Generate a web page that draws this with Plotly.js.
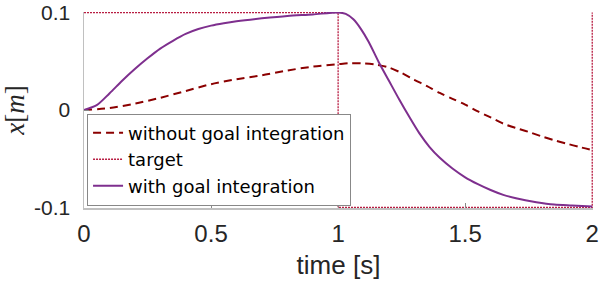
<!DOCTYPE html>
<html><head><meta charset="utf-8">
<script src="https://cdn.plot.ly/plotly-3.0.1.min.js"></script>
<style>body{margin:0;padding:0;background:#fff}#c{width:600px;height:282px}</style>
</head><body><div id="c"></div>
<script>
const tWith = [0, 0.05, 0.1, 0.15, 0.2, 0.25, 0.3, 0.35, 0.4, 0.45, 0.5, 0.55, 0.6, 0.7, 0.8, 0.9, 1.0, 1.03, 1.06, 1.09, 1.12, 1.16, 1.2, 1.24, 1.28, 1.32, 1.36, 1.4, 1.45, 1.5, 1.55, 1.6, 1.65, 1.7, 1.78, 1.85, 1.92, 2.0];
const xWith = [0, 0.005, 0.017, 0.030, 0.042, 0.053, 0.063, 0.071, 0.078, 0.083, 0.0865, 0.089, 0.091, 0.094, 0.0965, 0.098, 0.1, 0.0985, 0.093, 0.083, 0.070, 0.049, 0.030, 0.011, -0.007, -0.024, -0.038, -0.049, -0.060, -0.069, -0.076, -0.082, -0.087, -0.0905, -0.0945, -0.097, -0.098, -0.099];
const tWithout = [0, 0.1, 0.2, 0.3, 0.4, 0.5, 0.6, 0.7, 0.8, 0.9, 1.0, 1.05, 1.1, 1.15, 1.2, 1.25, 1.3, 1.35, 1.4, 1.45, 1.5, 1.55, 1.6, 1.65, 1.7, 1.75, 1.8, 1.85, 1.9, 1.95, 2.0];
const xWithout = [0, 0.002, 0.0065, 0.0125, 0.0195, 0.0265, 0.0315, 0.0355, 0.0405, 0.0445, 0.047, 0.048, 0.0478, 0.0465, 0.0435, 0.038, 0.031, 0.0245, 0.0175, 0.0115, 0.0055, -0.0015, -0.0075, -0.014, -0.0185, -0.0225, -0.027, -0.031, -0.0345, -0.038, -0.041];
const tTarget = [0, 1, 1, 2, 2];
const xTarget = [0.1, 0.1, -0.1, -0.1, 0.1];
const xTicks = [0, 0.5, 1, 1.5, 2];
const xTickText = ['0', '0.5', '1', '1.5', '2'];
const yTicks = [-0.1, 0, 0.1];
const yTickText = ['-0.1', '0', '0.1'];
const names = ['without goal integration', 'target', 'with goal integration'];

const font = 'Liberation Sans, Arial, sans-serif';
const traces = [
  {x: tWithout, y: xWithout, name: names[0], mode: 'lines', line: {color: '#8b0000', width: 2, dash: '8px,5px', shape: 'spline', smoothing: 0.8}},
  {x: tTarget, y: xTarget, name: names[1], mode: 'lines', line: {color: '#b81d42', width: 1.3, dash: '2px,1px'}},
  {x: tWith, y: xWith, name: names[2], mode: 'lines', line: {color: '#7e2f8e', width: 2, shape: 'spline', smoothing: 0.8}}
];
const layout = {
  width: 600, height: 282,
  margin: {l: 84, r: 7, t: 12, b: 74},
  paper_bgcolor: '#fff', plot_bgcolor: '#fff',
  showlegend: true,
  font: {family: font, color: '#262626'},
  xaxis: {
    range: [0, 2.003], tickvals: xTicks, ticktext: xTickText,
    ticks: 'inside', ticklen: 5, tickcolor: '#888', tickwidth: 1,
    showline: true, linecolor: '#c0c0c0', linewidth: 1.5,
    showgrid: false, zeroline: false,
    tickfont: {size: 24, family: font, color: '#262626'},
    ticklabelstandoff: 4,
    title: {text: 'time [s]', font: {size: 26, family: font, color: '#262626'}, standoff: 9}
  },
  yaxis: {
    range: [-0.1005, 0.1005], tickvals: yTicks, ticktext: yTickText,
    ticks: 'inside', ticklen: 5, tickcolor: '#888', tickwidth: 1,
    showline: true, linecolor: '#c0c0c0', linewidth: 1.5,
    showgrid: false, zeroline: false,
    tickfont: {size: 21, family: font, color: '#262626'},
    ticklabelstandoff: 8, ticklabeloverflow: 'allow',
    title: {text: '<i>x</i>[<i>m</i>]', font: {size: 27, family: 'Liberation Serif, DejaVu Serif, serif', color: '#262626'}, standoff: 14}
  },
  legend: {
    x: 0.006, y: 0.012, xanchor: 'left', yanchor: 'bottom',
    bgcolor: '#fff', bordercolor: '#888', borderwidth: 1,
    font: {size: 18, family: 'DejaVu Sans, sans-serif', color: '#000'},
    itemwidth: 30, tracegroupgap: 0
  }
};
Plotly.newPlot('c', traces, layout, {displayModeBar: false, staticPlot: true});
</script></body></html>
